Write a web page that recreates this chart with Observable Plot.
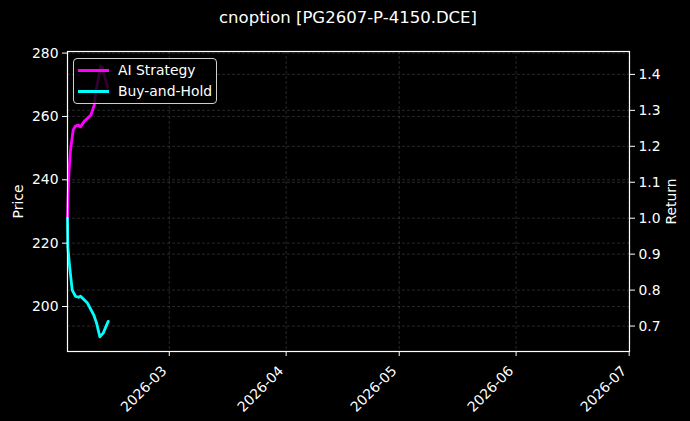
<!DOCTYPE html>
<html>
<head>
<meta charset="utf-8">
<script src="https://cdn.jsdelivr.net/npm/d3@7"></script>
<script src="https://cdn.jsdelivr.net/npm/@observablehq/plot@0.6"></script>
<style>
  html, body { margin: 0; padding: 0; background: #000; }
  #wrap { position: relative; width: 690px; height: 421px; background: #000; font-family: "DejaVu Sans", sans-serif; color: #fff; }
  #title { position: absolute; left: 67px; width: 562px; top: 7px; text-align: center; font-size: 16.5px; line-height: 22px; }
  #legend { position: absolute; left: 73px; top: 58px; width: 142px; height: 44px; border: 1px solid #cfcfcf; border-radius: 4px; background: rgba(0,0,0,0.8); font-size: 13.9px; }
  .row { position: absolute; left: 4px; height: 18px; display: flex; align-items: center; }
  .swatch { width: 31px; height: 3px; margin-right: 9px; }
</style>
</head>
<body>
<div id="wrap">
  <div id="chart"></div>
  <div id="title">cnoption [PG2607-P-4150.DCE]</div>
  <div id="legend"></div>
</div>
<script>
// ---- data ----
const seriesNames = ["AI Strategy", "Buy-and-Hold"];
const seriesColors = ["#ff00ff", "#00ffff"];

const strategyTimes = [
  "2026-02-02T00:00Z","2026-02-02T03:00Z","2026-02-02T10:00Z","2026-02-02T19:00Z",
  "2026-02-03T12:00Z","2026-02-04T02:00Z","2026-02-04T22:00Z","2026-02-05T11:00Z",
  "2026-02-06T12:00Z","2026-02-08T05:00Z","2026-02-09T02:00Z","2026-02-09T12:00Z",
  "2026-02-10T05:00Z","2026-02-10T18:00Z","2026-02-11T07:00Z","2026-02-11T22:00Z",
  "2026-02-12T16:00Z"
];
const strategyValues = [
  1.000, 1.050, 1.134, 1.189,
  1.245, 1.256, 1.259, 1.254,
  1.270, 1.287, 1.314, 1.351,
  1.389, 1.423, 1.420, 1.392,
  1.364
];

const buyHoldTimes = [
  "2026-02-02T00:00Z","2026-02-02T02:00Z","2026-02-02T14:00Z","2026-02-03T06:00Z",
  "2026-02-04T02:00Z","2026-02-04T22:00Z","2026-02-05T11:00Z","2026-02-07T07:00Z",
  "2026-02-09T00:00Z","2026-02-09T17:00Z","2026-02-10T14:00Z","2026-02-11T12:00Z",
  "2026-02-12T19:00Z"
];
const buyHoldValues = [
  1.000, 0.920, 0.864, 0.800,
  0.783, 0.780, 0.783, 0.764,
  0.730, 0.708, 0.670, 0.681,
  0.713
];

const priceTicks = [200, 220, 240, 260, 280];
const returnTicks = [0.7, 0.8, 0.9, 1.0, 1.1, 1.2, 1.3, 1.4];
const dateTicks = ["2026-03-01", "2026-04-01", "2026-05-01", "2026-06-01", "2026-07-01"];

// ---- scales ----
const xDomain = [new Date("2026-02-02T00:00Z"), new Date("2026-07-01T02:00Z")];
const priceDomain = [185.8, 280.5];
const returnDomain = [0.6292, 1.4637];
const toRet = p => returnDomain[0] + (p - priceDomain[0]) * (returnDomain[1] - returnDomain[0]) / (priceDomain[1] - priceDomain[0]);
const toPrice = r => priceDomain[0] + (r - returnDomain[0]) * (priceDomain[1] - priceDomain[0]) / (returnDomain[1] - returnDomain[0]);

const rows = [];
strategyTimes.forEach((t, i) => rows.push({series: seriesNames[0], date: new Date(t), value: strategyValues[i]}));
buyHoldTimes.forEach((t, i) => rows.push({series: seriesNames[1], date: new Date(t), value: buyHoldValues[i]}));

const gridStyle = {stroke: "#b0b0b0", strokeOpacity: 0.28, strokeWidth: 0.8, strokeDasharray: "3,2"};
const dateTickValues = dateTicks.map(d => new Date(d + "T00:00Z"));

const chart = Plot.plot({
  width: 690,
  height: 421,
  marginLeft: 67,
  marginRight: 61,
  marginTop: 51,
  marginBottom: 70,
  style: {background: "#000", color: "#fff", fontSize: "13.9px", fontFamily: "DejaVu Sans, sans-serif"},
  x: {type: "utc", domain: xDomain},
  y: {domain: returnDomain},
  color: {domain: seriesNames, range: seriesColors},
  marks: [
    Plot.gridX(dateTickValues, gridStyle),
    Plot.gridY(returnTicks, gridStyle),
    Plot.gridY(priceTicks.map(toRet), gridStyle),
    Plot.line(rows, {x: "date", y: "value", z: "series", stroke: "series", strokeWidth: 2.8, curve: "linear"}),
    Plot.frame({stroke: "#fff", strokeWidth: 1.2}),
    Plot.axisX(dateTickValues, {tickFormat: null, text: null, tickSize: 5, label: null}),
    Plot.axisX(dateTickValues, {
      tickFormat: d3.utcFormat("%Y-%m"), tickRotate: -45, label: null, tickSize: 0, tickPadding: 9, dx: -5, dy: 8
    }),
    Plot.axisY(priceTicks.map(toRet), {
      anchor: "left", tickFormat: v => String(Math.round(toPrice(v))), tickSize: 5, tickPadding: 4,
      label: "Price", labelAnchor: "center", labelArrow: "none", labelOffset: 54
    }),
    Plot.axisY(returnTicks, {
      anchor: "right", tickFormat: v => v.toFixed(1), tickSize: 5, tickPadding: 4,
      label: "Return", labelAnchor: "center", labelArrow: "none", labelOffset: 46
    })
  ]
});
document.getElementById("chart").appendChild(chart);

// legend (HTML overlay)
const legend = document.getElementById("legend");
seriesNames.forEach((name, i) => {
  const row = document.createElement("div");
  row.className = "row";
  row.style.top = (2 + i * 21) + "px";
  const sw = document.createElement("div");
  sw.className = "swatch";
  sw.style.background = seriesColors[i];
  const tx = document.createElement("span");
  tx.textContent = name;
  row.appendChild(sw);
  row.appendChild(tx);
  legend.appendChild(row);
});
</script>
</body>
</html>
